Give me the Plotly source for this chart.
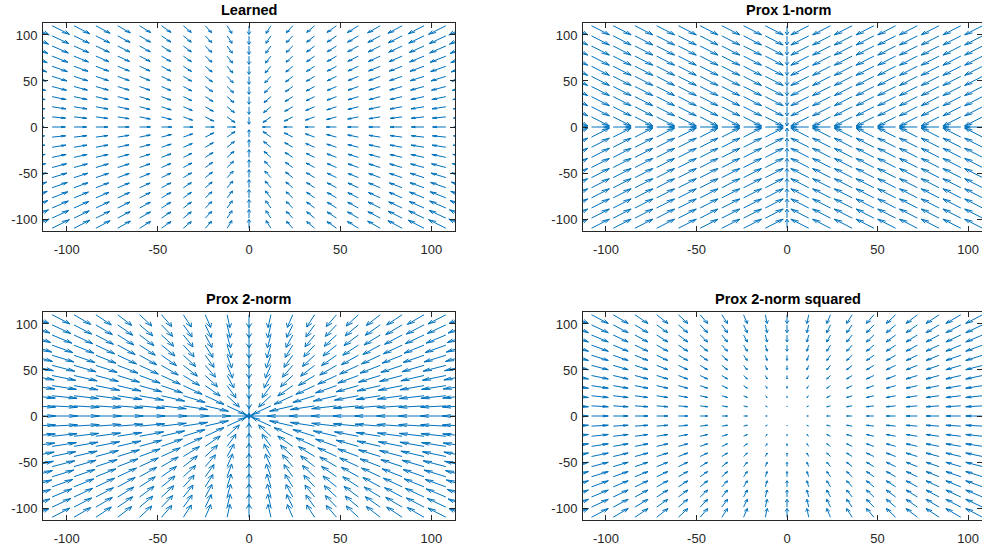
import numpy as np
import plotly.graph_objects as go

# ---- data ----
grid_x = [-120, -108, -96, -84, -72, -60, -48, -36, -24, -12, 0,
          12, 24, 36, 48, 60, 72, 84, 96, 108, 120]
grid_y = [-110, -99, -88, -77, -66, -55, -44, -33, -22, -11, 0,
          11, 22, 33, 44, 55, 66, 77, 88, 99, 110]
titles = ["Learned", "Prox 1-norm", "Prox 2-norm", "Prox 2-norm squared"]
tick_vals = [-100, -50, 0, 50, 100]
tick_text = ["-100", "-50", "0", "50", "100"]
lam = 10.0                                   # prox threshold
# learned field: base, decay length, slope, cross coupling
learned_x = [4.26, 122.0, 0.028, 0.0143]
learned_y = [7.8, 41.0, 0.0148, 0.0405]

X, Y = np.meshgrid(np.array(grid_x, float), np.array(grid_y, float))


def soft(v, t):
    return np.sign(v) * np.maximum(np.abs(v) - t, 0)


def field(name):
    if name == "Prox 1-norm":
        return soft(X, lam) - X, soft(Y, lam) - Y
    if name == "Prox 2-norm":
        r = np.hypot(X, Y)
        rs = np.where(r > 0, r, 1)
        f = np.where(r > 0, np.maximum(1 - lam / rs, 0), 0)
        return f * X - X, f * Y - Y
    if name == "Prox 2-norm squared":
        return X / (1 + lam) - X, Y / (1 + lam) - Y
    a, la, b, c = learned_x
    u = -np.sign(X) * (a * np.exp(-np.abs(Y) / la) + b * np.abs(X) * (1 + c * np.abs(Y)))
    a, la, b, c = learned_y
    v = -np.sign(Y) * (a * np.exp(-np.abs(X) / la) + b * np.abs(Y) * (1 + c * np.abs(X)))
    return u, v


def quiver_lines(u, v, autoscale=True):
    # MATLAB quiver autoscale + arrowheads
    if autoscale:
        n = np.sqrt(X.size)
        delx = (X.max() - X.min()) / n
        dely = (Y.max() - Y.min()) / n
        ln = np.sqrt((u ** 2 + v ** 2) / (delx ** 2 + dely ** 2))
        s = 0.9 / ln.max()
        u = u * s
        v = v * s
    alpha, beta = 0.33, 0.33
    xs, ys = [], []
    for x0, y0, uu, vv in zip(X.ravel(), Y.ravel(), u.ravel(), v.ravel()):
        xs += [x0, x0 + uu, None]
        ys += [y0, y0 + vv, None]
        xs += [x0 + uu - alpha * (uu + beta * (vv + 1e-9)), x0 + uu,
               x0 + uu - alpha * (uu - beta * (vv + 1e-9)), None]
        ys += [y0 + vv - alpha * (vv - beta * (uu + 1e-9)), y0 + vv,
               y0 + vv - alpha * (vv + beta * (uu + 1e-9)), None]
    return xs, ys


W, H = 982, 548
boxes = [  # left, right, top, bottom in px ; x range
    (43, 455, 23, 231, [-113, 113]),
    (583, 982, 23, 231, [-112.7, 107.7]),
    (43, 455, 312, 520, [-113, 113]),
    (583, 982, 312, 520, [-112.7, 107.7]),
]

fig = go.Figure()
layout = dict(width=W, height=H, margin=dict(l=0, r=0, t=0, b=0),
              plot_bgcolor="white", paper_bgcolor="white", showlegend=False,
              font=dict(family="Liberation Sans, Arial", size=13, color="#262626"))
annotations = []
for i, (name, (l, r, t, b, xr)) in enumerate(zip(titles, boxes)):
    k = "" if i == 0 else str(i + 1)
    u, v = field(name)
    xs, ys = quiver_lines(u, v, autoscale=(name != "Learned"))
    fig.add_trace(go.Scatter(x=xs, y=ys, mode="lines", xaxis="x" + k, yaxis="y" + k,
                             line=dict(color="#0072BD", width=1), hoverinfo="skip"))
    ax = dict(showline=True, linecolor="#262626", linewidth=1, mirror="ticks",
              ticks="inside", ticklen=5, tickcolor="#262626", showgrid=False, zeroline=False,
              automargin=False,
              tickvals=tick_vals, ticktext=tick_text, tickfont=dict(size=13, color="#262626"))
    layout["xaxis" + k] = dict(ax, domain=[l / W, r / W], range=xr, anchor="y" + k,
                               ticklabelstandoff=6)
    layout["yaxis" + k] = dict(ax, domain=[1 - b / H, 1 - t / H], range=[-113, 113], anchor="x" + k,
                               ticklabelstandoff=2)
    annotations.append(dict(text="<b>" + name + "</b>", xref="paper", yref="paper",
                            x=((l + (455 if i % 2 == 0 else 993)) / 2) / W, y=1 - (t - 3) / H,
                            xanchor="center", yanchor="bottom", showarrow=False,
                            font=dict(size=14.5, color="black")))
layout["annotations"] = annotations
fig.update_layout(**layout)
fig.write_html("out.html", config={"displayModeBar": False},
               post_script="document.body.style.margin='0';document.body.style.overflow='hidden';")
